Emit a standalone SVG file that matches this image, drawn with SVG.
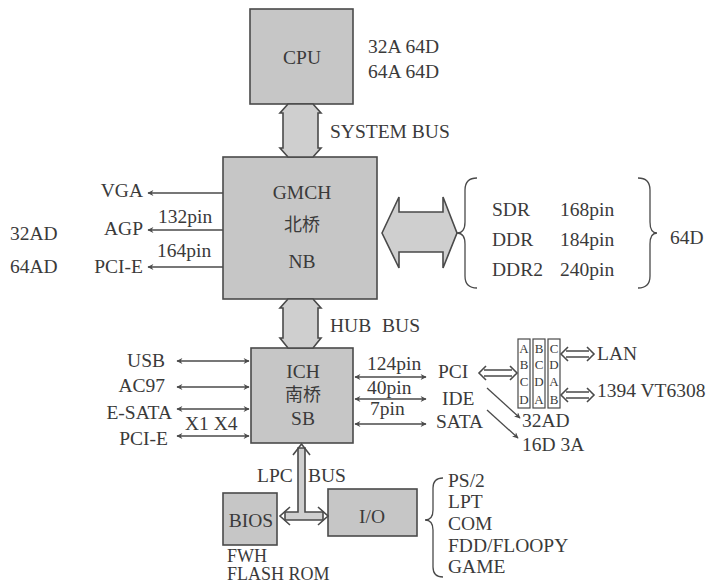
<svg xmlns="http://www.w3.org/2000/svg" width="713" height="583" viewBox="0 0 713 583" font-family="'Liberation Serif', 'DejaVu Serif', serif">
<defs>
<style>
text{font-size:19.5px;fill:#3a3a3a}
text.cjk{font-family:'Noto Sans CJK SC', sans-serif;font-size:18px}
text.sm{font-size:13px}
text.ft{font-size:18px}
.box{fill:#c6c6c6;stroke:#4a4a4a;stroke-width:1.6}
.slot{fill:#fff;stroke:#4a4a4a;stroke-width:1.2}
.ln{stroke:#4a4a4a;stroke-width:1.3;fill:none}
.bus{fill:#cfcfcf;stroke:#4a4a4a;stroke-width:1.6;stroke-linejoin:miter}
.dbl{stroke:#4a4a4a;stroke-width:1.6;fill:none}
.mid{text-anchor:middle}
.end{text-anchor:end}
</style>
<marker id="ah" viewBox="0 0 10 10" refX="9" refY="5" markerWidth="8" markerHeight="6" markerUnits="userSpaceOnUse" orient="auto-start-reverse">
<path d="M0,0 L10,5 L0,10 L3,5 Z" fill="#4a4a4a"/>
</marker>
</defs>
<rect width="713" height="583" fill="#fff"/>

<g id="cpu">
<rect class="box" x="250" y="9" width="103" height="95"/>
<text class="mid" x="302" y="64">CPU</text>
<text x="368" y="53">32A 64D</text>
<text x="368" y="78">64A 64D</text>
</g>

<g id="nb">
<rect class="box" x="223" y="157" width="154" height="142"/>
<text class="mid" x="302" y="199">GMCH</text>
<text class="mid cjk" x="302" y="231">北桥</text>
<text class="mid" x="302" y="268">NB</text>
</g>

<g id="sb">
<rect class="box" x="251" y="348" width="102" height="95"/>
<text class="mid" x="303" y="378">ICH</text>
<text class="mid cjk" x="303" y="401">南桥</text>
<text class="mid" x="303" y="425">SB</text>
</g>

<g id="bios">
<rect class="box" x="223" y="493" width="54" height="52"/>
<text class="mid" x="251" y="527">BIOS</text>
<text class="ft" x="227" y="562">FWH</text>
<text class="ft" x="227" y="580">FLASH ROM</text>
</g>

<g id="io">
<rect class="box" x="328" y="489" width="89" height="47"/>
<text class="mid" x="372" y="523">I/O</text>
</g>

<g id="memory">
<path class="ln" d="M477,178 Q465,178 465,190 L465,222 Q465,233 457,233 Q465,233 465,244 L465,276 Q465,288 477,288"/>
<text x="492" y="216">SDR</text>
<text x="560" y="216">168pin</text>
<text x="492" y="246">DDR</text>
<text x="560" y="246">184pin</text>
<text x="492" y="276">DDR2</text>
<text x="560" y="276">240pin</text>
<path class="ln" d="M638,178 Q650,178 650,190 L650,222 Q650,233 657,233 Q650,233 650,244 L650,276 Q650,288 638,288"/>
<text x="670" y="244">64D</text>
</g>

<g id="pci-slots">
<rect class="slot" x="518" y="339" width="12" height="69"/>
<rect class="slot" x="533" y="339" width="12" height="69"/>
<rect class="slot" x="548" y="339" width="12" height="69"/>
<text class="sm mid" x="524" y="353">A</text>
<text class="sm mid" x="524" y="369">B</text>
<text class="sm mid" x="524" y="386">C</text>
<text class="sm mid" x="524" y="404">D</text>
<text class="sm mid" x="539" y="353">B</text>
<text class="sm mid" x="539" y="369">C</text>
<text class="sm mid" x="539" y="386">D</text>
<text class="sm mid" x="539" y="404">A</text>
<text class="sm mid" x="554" y="353">C</text>
<text class="sm mid" x="554" y="369">D</text>
<text class="sm mid" x="554" y="386">A</text>
<text class="sm mid" x="554" y="404">B</text>
</g>

<g id="labels">
<text x="330" y="138">SYSTEM BUS</text>
<text x="330" y="332" word-spacing="6">HUB BUS</text>
<text class="end" x="143" y="197">VGA</text>
<text class="end" x="143" y="235">AGP</text>
<text class="end" x="143" y="273">PCI-E</text>
<text x="158" y="223">132pin</text>
<text x="157" y="257">164pin</text>
<text x="10" y="240">32AD</text>
<text x="10" y="273">64AD</text>
<text class="end" x="165" y="367">USB</text>
<text class="end" x="165" y="392">AC97</text>
<text class="end" x="172" y="419">E-SATA</text>
<text class="end" x="168" y="445">PCI-E</text>
<text x="185" y="430">X1 X4</text>
<text x="367" y="370">124pin</text>
<text x="367" y="394">40pin</text>
<text x="370" y="415">7pin</text>
<text x="438" y="378">PCI</text>
<text x="442" y="405">IDE</text>
<text x="436" y="428">SATA</text>
<text x="522" y="427">32AD</text>
<text x="522" y="451">16D 3A</text>
<text x="597" y="360">LAN</text>
<text x="597" y="397">1394 VT6308</text>
<text x="257" y="482">LPC</text>
<text x="308" y="482">BUS</text>
<path class="ln" d="M443,478 Q433,478 433,488 L433,510 Q433,520 425,520 Q433,520 433,530 L433,567 Q433,577 443,577"/>
<text x="448" y="487">PS/2</text>
<text x="448" y="508">LPT</text>
<text x="448" y="530">COM</text>
<text x="448" y="552">FDD/FLOOPY</text>
<text x="448" y="573">GAME</text>
</g>

<g id="connectors">
<polygon class="bus" points="288,104 313,104 321,113 318,113 318,148 321,148 313,157 288,157 280,148 283,148 283,113 280,113"/>
<polygon class="bus" points="288,299 313,299 321,308 318,308 318,338 321,338 313,348 288,348 280,338 283,338 283,308 280,308"/>
<polygon class="bus" points="382,233 399,197 399,212 443,212 443,197 457,233 443,268 443,252 399,252 399,268"/>
<line class="ln" x1="223" y1="193" x2="148" y2="193" marker-end="url(#ah)"/>
<line class="ln" x1="223" y1="230" x2="148" y2="230" marker-end="url(#ah)"/>
<line class="ln" x1="223" y1="267" x2="148" y2="267" marker-end="url(#ah)"/>
<line class="ln" x1="177" y1="361" x2="249" y2="361" marker-start="url(#ah)" marker-end="url(#ah)"/>
<line class="ln" x1="177" y1="387" x2="249" y2="387" marker-start="url(#ah)" marker-end="url(#ah)"/>
<line class="ln" x1="177" y1="409" x2="249" y2="409" marker-start="url(#ah)" marker-end="url(#ah)"/>
<line class="ln" x1="177" y1="436" x2="249" y2="436" marker-start="url(#ah)" marker-end="url(#ah)"/>
<line class="ln" x1="355" y1="377" x2="426" y2="377" marker-start="url(#ah)" marker-end="url(#ah)"/>
<line class="ln" x1="355" y1="399" x2="426" y2="399" marker-start="url(#ah)" marker-end="url(#ah)"/>
<line class="ln" x1="355" y1="424" x2="426" y2="424" marker-start="url(#ah)" marker-end="url(#ah)"/>
<line class="ln" x1="487" y1="388" x2="520" y2="418" marker-end="url(#ah)"/>
<line class="ln" x1="487" y1="410" x2="518" y2="438" marker-end="url(#ah)"/>
<path class="dbl" d="M484,370 L512,370 M484,376 L512,376 M486,366 L479,373 L486,380 M510,366 L517,373 L510,380"/>
<path class="dbl" d="M566,351 L589,351 M566,357 L589,357 M568,347 L561,354 L568,361 M587,347 L594,354 L587,361"/>
<path class="dbl" d="M566,392 L589,392 M566,398 L589,398 M568,388 L561,395 L568,402 M587,388 L594,395 L587,402"/>
<path class="bus" stroke-width="1.4" d="M298,448 L298,512 L285,512 L285,520 L323,520 L323,512 L305,512 L305,448 Z"/>
<path class="dbl" d="M293,455 L301.5,444 L310,455 M290,507 L280,516 L290,525 M318,507 L328,516 L318,525"/>
</g>
</svg>
